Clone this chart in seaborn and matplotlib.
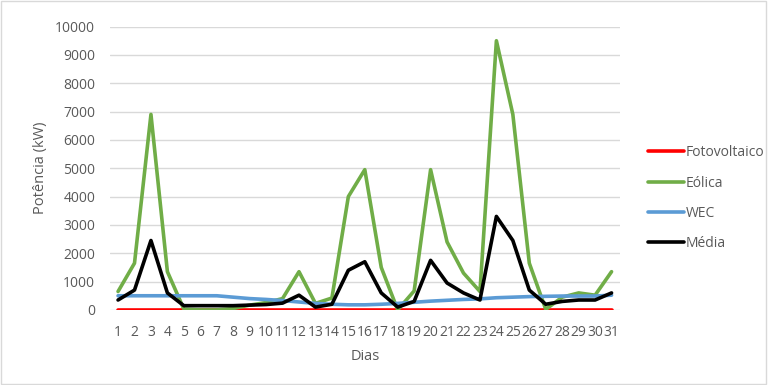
import numpy as np
import pandas as pd
import matplotlib
matplotlib.use("Agg")
import matplotlib.pyplot as plt
import seaborn as sns

dias = list(range(1, 32))
fotovoltaico = [0] * 31
eolica = [650, 1650, 6900, 1350, 30, 0, 0, 50, 170, 260, 400, 1350, 230, 420,
          4000, 4950, 1500, 0, 670, 4950, 2400, 1300, 650, 9500, 6900, 1650,
          20, 450, 600, 520, 1350]
wec = [500, 500, 500, 500, 500, 500, 500, 450, 400, 370, 330, 280, 230, 200,
       180, 180, 200, 230, 270, 310, 340, 370, 390, 430, 450, 470, 480, 490,
       490, 490, 520]
media = [350, 700, 2450, 600, 150, 150, 150, 150, 170, 190, 240, 520, 100, 200,
         1400, 1700, 600, 100, 300, 1750, 950, 600, 350, 3300, 2450, 700, 200,
         300, 350, 350, 600]

series = {"Fotovoltaico": fotovoltaico, "Eólica": eolica, "WEC": wec, "Média": media}
colors = {"Fotovoltaico": "#FF0000", "Eólica": "#70AD47", "WEC": "#5B9BD5", "Média": "#000000"}

df = pd.concat([pd.DataFrame({"Dia": dias, "Potência": v, "Série": k}) for k, v in series.items()],
               ignore_index=True)

sns.set_theme(style="white")
plt.rcParams["font.family"] = ["Open Sans", "DejaVu Sans"]

fig = plt.figure(figsize=(7.68, 3.85), dpi=100)
ax = fig.add_axes([0.143, 0.195, 0.664, 0.736])

sns.lineplot(data=df, x="Dia", y="Potência", hue="Série", palette=colors,
             linewidth=2.6, ax=ax, legend=True, sort=False)

ax.set_xlim(0.5, 31.5)
ax.set_ylim(0, 10000)
ax.set_xticks(dias)
ax.set_xticklabels([str(d) for d in dias])
ax.set_yticks(range(0, 10001, 1000))
ax.yaxis.grid(True, color="#d9d9d9", linewidth=1)
ax.set_axisbelow(True)
for s in ax.spines.values():
    s.set_visible(False)
ax.tick_params(axis="both", colors="#595959", labelsize=10, length=0)
ax.tick_params(axis="y", pad=10.5)
ax.tick_params(axis="x", pad=11)
ax.set_xlabel("Dias", color="#595959", fontsize=10.5, labelpad=6)
ax.set_ylabel("Potência (kW)", color="#595959", fontsize=10.5, labelpad=5)

leg = ax.legend(loc="upper left", bbox_to_anchor=(1.03, 0.625), frameon=False,
                fontsize=10, handlelength=2.6, handletextpad=0.15, labelspacing=1.1)
for t in leg.get_texts():
    t.set_color("#595959")
for l in leg.get_lines():
    l.set_linewidth(2.6)

fig.patches.append(plt.Rectangle((0.001, 0.002), 0.997, 0.995, transform=fig.transFigure,
                                 fill=False, edgecolor="#d9d9d9", linewidth=1))
fig.savefig("out.png", dpi=100)
